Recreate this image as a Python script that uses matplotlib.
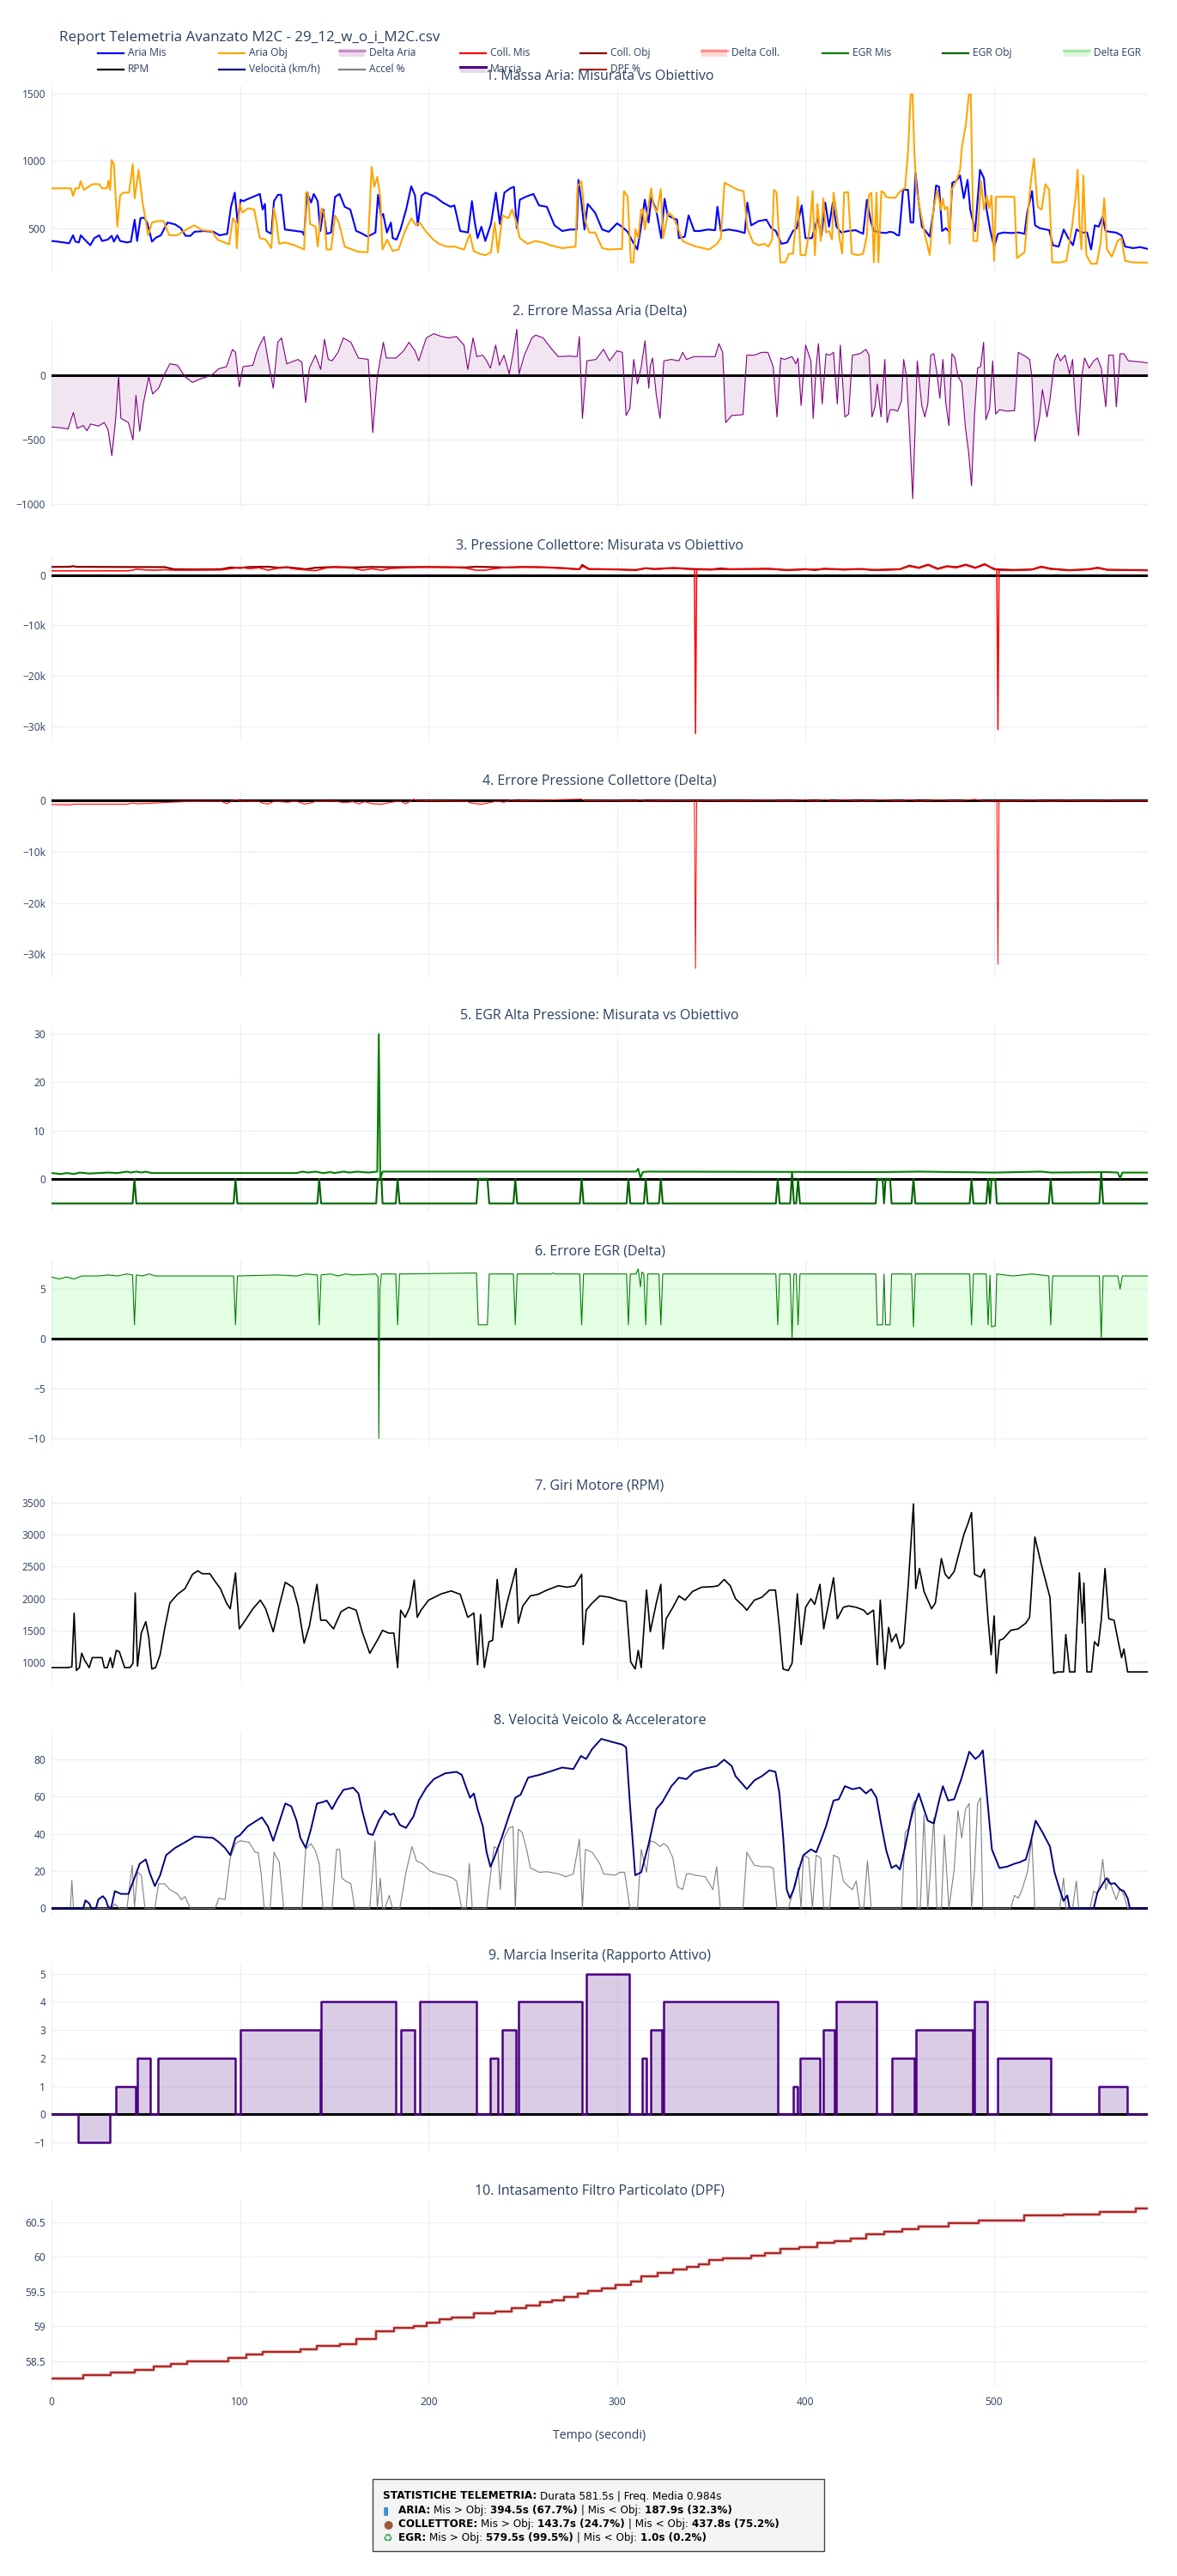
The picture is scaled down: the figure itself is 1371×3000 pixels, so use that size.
import matplotlib
matplotlib.use('Agg')
import matplotlib.pyplot as plt
from matplotlib.lines import Line2D
from matplotlib.patches import Rectangle
from matplotlib.ticker import FuncFormatter
import numpy as np

plt.rcParams['font.family'] = ['Open Sans', 'DejaVu Sans']

# ---- data: (time s, value) ----
aria_mis = [(0, 405), (3.3, 400), (6.3, 394), (9.4, 388), (11.4, 447), (12.7, 400), (14.5, 394), (15.5, 447),
            (17.6, 415), (20.6, 373), (22.7, 426), (25.3, 447), (26.8, 405), (29.8, 415), (31.9, 443), (33.1, 400),
            (34.9, 447), (36.4, 405), (40, 394), (42.1, 400), (44.1, 563), (45.4, 405), (47.2, 574), (49.2, 578),
            (50.7, 542), (53.3, 400), (55.4, 430), (58, 447), (61.5, 542), (65.6, 528), (68.6, 500), (71.1, 443),
            (73.7, 443), (75.8, 473), (80.9, 479), (86, 473), (89.1, 447), (93.2, 458), (95.2, 659), (97.2, 764),
            (98.7, 542), (100.3, 711), (101.7, 701), (104.4, 718), (110.5, 754), (112, 638), (113.2, 680), (114, 479),
            (116.6, 458), (118, 701), (120.1, 748), (121.8, 748), (123.8, 490), (129.9, 479), (133, 473), (134, 447),
            (135.6, 764), (137.7, 690), (139.1, 754), (141.2, 701), (142.6, 479), (144.2, 638), (145.9, 458),
            (148.3, 468), (150.4, 733), (152.8, 754), (155.5, 659), (158.5, 638), (161.6, 479), (163.6, 468),
            (167.7, 437), (171.8, 468), (173.2, 748), (174.9, 585), (175.9, 606), (177.9, 468), (180, 542),
            (181, 426), (183, 415), (185.1, 490), (188.1, 638), (190.8, 811), (192.8, 743), (194.3, 521),
            (196.3, 743), (198.4, 764), (203.5, 733), (207.6, 690), (211.7, 659), (213.7, 669), (216.8, 479),
            (220.9, 468), (223, 701), (224.4, 553), (226, 426), (228, 511), (230.1, 405), (233.1, 532), (235.7, 764),
            (237.8, 532), (240.2, 764), (243.3, 796), (245.3, 807), (246.8, 500), (248.4, 711), (251.5, 733),
            (255.6, 754), (258.6, 669), (262.7, 659), (266.8, 521), (270.9, 479), (275, 490), (278.6, 490),
            (279.5, 859), (281.1, 690), (282.7, 490), (284.4, 680), (288.3, 616), (292.1, 490), (295.6, 473),
            (300, 536), (302.6, 511), (305.6, 473), (307.7, 415), (310.7, 342), (312.7, 511), (314.7, 711),
            (316.7, 542), (318.1, 726), (320.7, 638), (323.4, 426), (325.2, 718), (326.8, 595), (329.8, 574),
            (331.8, 563), (332.8, 426), (335.9, 437), (337.9, 595), (340.9, 479), (343.9, 479), (348, 490),
            (352, 485), (353.2, 659), (355, 479), (359, 490), (364, 479), (367.7, 464), (369.1, 690), (371.1, 521),
            (375.1, 553), (379.2, 563), (381.8, 500), (384.2, 479), (387.2, 384), (390.2, 394), (393.3, 479),
            (395.3, 500), (397.9, 669), (399.9, 426), (403.3, 426), (406.3, 574), (408.4, 447), (410.4, 690),
            (412.4, 511), (414.4, 690), (416.4, 511), (418.8, 468), (422.5, 479), (426.5, 485), (430.5, 458),
            (432.5, 711), (434.5, 553), (436.2, 479), (439.6, 468), (442.6, 464), (444.6, 473), (446.6, 468),
            (448.7, 447), (449.6, 447), (451.7, 785), (453.1, 785), (454.3, 785), (455.7, 542), (457.1, 542),
            (458.3, 912), (459.7, 722), (461.7, 511), (463.7, 479), (465.8, 437), (467.8, 627), (469.2, 817),
            (470.8, 807), (472.4, 479), (474.4, 500), (476.4, 468), (477.8, 838), (479.9, 849), (481.9, 891),
            (483.9, 722), (485.9, 859), (487.3, 638), (489.9, 479), (492.5, 933), (494.6, 870), (496, 638),
            (498, 479), (500, 363), (502, 458), (505, 468), (509.1, 464), (513.1, 468), (516.1, 458), (517.5, 616),
            (520.1, 775), (521.7, 521), (524.2, 500), (529.2, 485), (531.2, 373), (534.2, 363), (536.9, 490),
            (539.3, 426), (541.8, 373), (543.7, 490), (546.3, 468), (549.3, 468), (551.4, 342), (553.4, 521),
            (555.4, 511), (557.5, 585), (559.1, 479), (561.5, 473), (564.5, 468), (567.5, 447), (569.5, 363),
            (573.6, 352), (577.5, 359), (581.5, 346)]

aria_obj = [(0, 796), (10.4, 796), (11.4, 739), (12.7, 796), (14.5, 796), (15.5, 849), (17.2, 785), (21.7, 827),
            (25.3, 827), (26.8, 796), (29.4, 796), (30.2, 853), (31.1, 785), (31.9, 1007), (33.1, 976), (34.9, 511),
            (36.4, 743), (38, 764), (41.1, 764), (43.1, 976), (44.1, 722), (46.2, 933), (48.2, 701), (51.3, 447),
            (53.3, 542), (56.4, 553), (59.4, 553), (62.5, 447), (66.6, 447), (72.7, 500), (75.8, 521), (79.9, 485),
            (85, 479), (88, 415), (94.2, 380), (96.2, 574), (97.7, 542), (98.3, 352), (99.7, 684), (101.3, 616),
            (104.4, 648), (107.5, 638), (110.5, 426), (113.6, 415), (116.6, 352), (118, 648), (119.3, 553),
            (120.7, 384), (123.8, 394), (128.9, 373), (134, 342), (135, 764), (136.1, 764), (137.1, 532),
            (140.1, 511), (141.2, 363), (143.2, 648), (144.6, 606), (145.9, 342), (148.3, 342), (150.4, 595),
            (152.4, 542), (155.5, 363), (162.7, 325), (167.7, 321), (169.8, 955), (171.2, 807), (172.8, 881),
            (174.5, 722), (175.5, 342), (178, 415), (181, 331), (184.1, 342), (187.2, 468), (190.8, 574),
            (193.3, 521), (195.3, 542), (198.4, 479), (202.5, 415), (205.5, 384), (209.6, 363), (213.7, 363),
            (218.8, 342), (221.9, 458), (223.9, 331), (227, 310), (230.1, 300), (233.1, 321), (235.1, 542),
            (236.8, 321), (239.2, 595), (242.3, 574), (244.3, 638), (246.4, 553), (248.4, 426), (252.5, 384),
            (256.6, 405), (260.6, 394), (264.7, 373), (270.9, 352), (278, 363), (279, 807), (281.1, 849),
            (283.1, 553), (285.2, 468), (288.3, 468), (292.1, 352), (295.6, 342), (302.6, 346), (303.6, 775),
            (305.6, 733), (307.3, 246), (308.7, 246), (309.7, 490), (311.3, 426), (312.7, 638), (313.7, 638),
            (314.7, 490), (318.1, 796), (319.1, 680), (321.1, 616), (323.2, 790), (324.4, 426), (327.1, 616),
            (329.1, 595), (331.8, 521), (334.8, 405), (337.9, 384), (341.9, 363), (348.9, 342), (353, 384),
            (355, 426), (357, 838), (361, 807), (364, 785), (367.1, 775), (369.1, 500), (372.1, 394), (375.1, 373),
            (378.1, 384), (380.2, 363), (382.2, 415), (383.2, 785), (384.6, 764), (386.6, 246), (389.2, 246),
            (391.2, 310), (393.3, 310), (395.3, 638), (395.9, 733), (397.3, 300), (399.9, 300), (402.3, 511),
            (403.7, 775), (404.9, 300), (406.3, 680), (408, 405), (409.4, 722), (410.8, 468), (412.4, 479),
            (414, 415), (414.8, 764), (416.4, 616), (418, 426), (419.4, 310), (420.4, 764), (422.5, 768),
            (424.5, 310), (427.5, 300), (430.5, 310), (432.5, 447), (433.5, 743), (434.9, 764), (436.2, 246),
            (437.6, 764), (438.6, 246), (440.2, 775), (441.6, 764), (442.6, 733), (444.6, 726), (447.6, 726),
            (449.6, 764), (451.1, 785), (452.7, 796), (454.3, 1060), (455.7, 1494), (456.7, 1494), (457.7, 1060),
            (458.7, 796), (460.7, 638), (463.7, 426), (465.8, 300), (467.8, 638), (469.8, 785), (471.8, 638),
            (472.8, 722), (473.8, 638), (475.2, 659), (476.4, 384), (477.4, 785), (479.9, 849), (481.9, 933),
            (482.9, 1103), (485, 1272), (486.6, 1494), (487.6, 1494), (489, 405), (491, 405), (493, 849),
            (494.6, 638), (496, 743), (497.4, 648), (498.6, 743), (500, 257), (501, 733), (505, 733), (510.7, 733),
            (512.1, 278), (514.1, 300), (516.1, 321), (518.1, 638), (519.5, 849), (521.1, 1018), (523.1, 659),
            (525.2, 638), (527.2, 827), (529.2, 785), (530.8, 246), (535.2, 246), (538.3, 257), (541.3, 511),
            (543.3, 743), (544.3, 933), (545.3, 511), (546.3, 342), (547.3, 891), (548.9, 300), (551.4, 236),
            (554.4, 236), (556.4, 384), (558.4, 722), (559.8, 342), (562.4, 289), (565.5, 405), (567.5, 426),
            (569.5, 257), (573.6, 246), (581.5, 244)]

delta_aria = [(0, -399), (4.8, -405), (8.8, -414), (11.6, -287), (13.6, -410), (16.8, -388), (18.8, -428),
              (20.8, -376), (24.8, -392), (28, -365), (30, -421), (32, -621), (34, -343), (35.6, -4), (36.8, -332),
              (40.8, -365), (43.2, -499), (44.8, -154), (46.8, -432), (48.8, -209), (51.6, -9), (53.6, -143),
              (56.8, -98), (60, 13), (62.8, 91), (66.8, 80), (70.8, -9), (74.8, -53), (78.8, -27), (84.8, 2),
              (88.8, 53), (92.8, 69), (96, 203), (97.6, 180), (99.6, -87), (101.6, 69), (106.8, 80), (108.8, 180),
              (110.8, 247), (112.8, 303), (114.8, 125), (117.6, -98), (120, 258), (122, 292), (124.8, 91),
              (130.8, 125), (132.8, 102), (134.8, -209), (136.8, 58), (140, 158), (142.8, 47), (144.8, 281),
              (146.8, 125), (148.8, 114), (152, 180), (154.8, 292), (158.8, 258), (162.8, 136), (168, 125),
              (170.4, -443), (172.8, -9), (176, 258), (177.6, 136), (182.8, 136), (186.8, 192), (189.6, 258),
              (192.8, 192), (194.8, 114), (198.8, 292), (202.8, 325), (206.8, 303), (210.8, 292), (214.8, 303),
              (218.8, 236), (220.8, 47), (223.6, 292), (225.6, 147), (228.8, 158), (230.8, 114), (232.8, 58),
              (235.6, 236), (237.6, 80), (240, 158), (242.8, 13), (244.8, 169), (246.8, 359), (248, 13),
              (250.8, 158), (254.8, 292), (256.8, 314), (260.8, 292), (264.8, 214), (268.8, 147), (274.8, 151),
              (278.8, 147), (280, 303), (281.6, -332), (284, 114), (288.8, 125), (292.8, 203), (296, 114),
              (300, 192), (302.8, 180), (304.8, -310), (306.8, -254), (308.8, 125), (310.8, -65), (312.8, 69),
              (314.8, 269), (316.8, -98), (317.6, 76), (318.8, 136), (320.8, -154), (322.8, -332), (324.8, 114),
              (328.8, 125), (332.8, 114), (334.8, 180), (336.8, 125), (340.8, 147), (346.8, 147), (352, 147),
              (354, 247), (356, 180), (357.6, -365), (360.8, -310), (366.8, -303), (368.8, 158), (372.8, 158),
              (376.8, 180), (380, 180), (382.8, 69), (384.8, -321), (386.8, 136), (388.8, 125), (392.8, 147),
              (394.8, 91), (396, 136), (397.6, -232), (400, 236), (402.8, 114), (404, -332), (405.6, 69),
              (406.8, 247), (408.8, -220), (410.8, 169), (412.8, 158), (414.8, 180), (416.8, -220), (418.4, 236),
              (420.8, -321), (422.8, -299), (424.8, 158), (428.8, 169), (432, 203), (433.6, 158), (435.2, -321),
              (436.8, -243), (438, -65), (440, -321), (442, 125), (443.2, -365), (444.8, -265), (446.8, -265),
              (448.8, -276), (450.8, -198), (452, 125), (453.6, -20), (455.2, -454), (456.8, -955), (458, -454),
              (459.2, 114), (461.6, -232), (463.2, -321), (464.8, -220), (466.4, 158), (468, 169), (469.6, 24),
              (471.2, -176), (472.8, 125), (474.4, -220), (476, -388), (477.6, 169), (479.2, 136), (480.8, -9),
              (482.8, -53), (484.8, -410), (486.4, -588), (488, -855), (489.6, -299), (491.2, 58), (492.8, 69),
              (494.4, 258), (495.6, -343), (497.6, -254), (499.2, 114), (500.8, -299), (502.8, -265), (506.8, -276),
              (510.8, -272), (512.8, 180), (516.8, 147), (518.8, 125), (520, -9), (521.6, -510), (524, -332),
              (525.6, -109), (528, -321), (529.6, -187), (532, 114), (533.6, 169), (535.2, 114), (537.6, 158),
              (540, 13), (541.6, 125), (543.2, -254), (544.8, -465), (546.4, -9), (548, 136), (550.4, 58),
              (552.8, 114), (554.8, 136), (556.8, 58), (559.2, -243), (560.8, 158), (563.2, 158), (564.8, -243),
              (566.8, 169), (568.8, 169), (571.2, 114), (576.8, 107), (581.5, 98)]

coll_obj = [(0, 1650), (10, 1700), (11.6, 1810), (13, 1680), (40, 1640), (60, 1620), (65, 1200), (75, 1150),
            (90, 1200), (95, 1550), (100, 1450), (105, 1650), (115, 1700), (120, 1500), (125, 1600), (135, 1200),
            (140, 1500), (150, 1650), (160, 1550), (170, 1650), (180, 1600), (200, 1650), (220, 1550), (225, 1700),
            (240, 1550), (250, 1650), (260, 1600), (270, 1450), (280, 1200), (281.5, 2050), (285, 1250),
            (300, 1150), (310, 1050), (315, 1400), (320, 1250), (330, 1450), (340, 1250), (350, 1150), (355, 1350),
            (360, 1200), (370, 1250), (380, 1300), (390, 1050), (400, 1200), (405, 1050), (410, 1300), (420, 1150),
            (430, 1250), (435, 1050), (450, 1200), (455, 1900), (460, 1500), (465, 2100), (470, 1300), (475, 1800),
            (480, 1600), (485, 2100), (490, 1500), (495, 2200), (500, 1200), (510, 1050), (520, 1150), (525, 1700),
            (530, 1300), (540, 1000), (550, 1200), (555, 1500), (560, 1100), (570, 1050), (581.5, 1000)]

coll_mis = [(0, 880), (40, 880), (43, 1000), (45, 1200), (50, 1050), (55, 1000), (60, 1100), (65, 1000),
            (90, 1050), (95, 1300), (100, 1600), (105, 1300), (110, 1500), (115, 1000), (120, 1400), (125, 1500),
            (130, 1200), (140, 900), (145, 1400), (150, 1600), (160, 1400), (165, 1000), (170, 1300), (175, 1000),
            (180, 1350), (195, 1600), (210, 1600), (220, 1400), (225, 1000), (230, 1000), (235, 1300), (240, 1500),
            (250, 1650), (260, 1600), (270, 1400), (280, 1150), (281.5, 1800), (285, 1200), (300, 1150),
            (310, 1000), (315, 1350), (320, 1200), (330, 1400), (341, 1150), (341.6, -31500), (342.2, 1100),
            (350, 1100), (360, 1200), (380, 1250), (390, 1000), (400, 1150), (410, 1250), (420, 1100), (430, 1200),
            (440, 1000), (450, 1150), (455, 1800), (460, 1400), (465, 2000), (470, 1200), (475, 1700), (480, 1500),
            (485, 2000), (490, 1400), (495, 2100), (501.4, 1150), (502, -30700), (502.6, 1000), (510, 950),
            (520, 1100), (525, 1600), (530, 1200), (540, 950), (550, 1150), (555, 1400), (560, 1050), (570, 1000),
            (581.5, 950)]

delta_coll = [(0, -760), (10, -820), (12, -700), (40, -700), (43, -450), (45, -600), (50, -550), (60, -350),
              (70, -200), (90, -120), (93, -600), (97, 200), (100, -50), (110, -150), (112, -500), (115, -650),
              (118, -100), (125, -300), (130, -100), (134, -650), (137, -500), (140, -150), (145, -100), (150, -50),
              (155, -400), (160, -200), (163, -650), (166, -200), (170, -600), (175, -700), (180, -300), (185, -100),
              (188, -600), (192, 300), (195, -100), (200, 0), (220, -100), (223, -500), (228, -700), (232, -400),
              (236, -100), (240, -300), (244, 200), (246, -100), (250, 0), (281, 300), (283, 0), (300, 50),
              (310, -100), (312, 200), (315, -100), (330, 50), (341, 0), (341.6, -32800), (342.2, 0), (350, 50),
              (360, -50), (380, 100), (390, -50), (400, 150), (405, -100), (410, 200), (415, -50), (420, 150),
              (430, -100), (440, 150), (450, -50), (455, 200), (460, -100), (470, 150), (480, -50), (490, 250),
              (495, -100), (501.4, 0), (502, -32000), (502.6, 0), (510, -50), (520, 100), (530, -100), (540, 50),
              (550, -80), (560, 60), (570, -50), (581.5, -30)]

egr_mis = [(0, 1.2), (5, 1.0), (8, 1.2), (12, 1.0), (15, 1.3), (20, 1.1), (25, 1.2), (30, 1.3), (35, 1.2),
           (40, 1.5), (42, 1.3), (45, 1.5), (48, 1.3), (50, 1.5), (53, 1.2), (130, 1.2), (133, 1.5), (136, 1.3),
           (140, 1.5), (144, 1.2), (148, 1.4), (150, 1.2), (155, 1.5), (158, 1.3), (162, 1.5), (168, 1.3),
           (172.8, 1.5), (173.6, 30), (174.4, 0.0), (175.6, 1.5), (310, 1.5), (311.2, 2.1), (312.4, 0.2),
           (313.6, 1.4), (316, 1.5), (440, 1.4), (460, 1.5), (480, 1.4), (500, 1.3), (525, 1.5), (530, 1.3),
           (560, 1.4), (565.6, 1.3), (566.8, 0.1), (568, 1.3), (581.5, 1.3)]

egr_obj = [(0, -5.1), (43, -5.1), (44, 0), (45, -5.1), (96.6, -5.1), (97.6, 0), (98.6, -5.1), (141, -5.1),
           (142, 0), (143, -5.1), (172.2, -5.1), (173, 0), (175, 0), (175.6, -5.1), (182.6, -5.1), (183.6, 0),
           (184.6, -5.1), (225.4, -5.1), (226.4, 0), (231.2, 0), (232.2, -5.1), (245, -5.1), (246, 0), (247, -5.1),
           (280.2, -5.1), (281.2, 0), (282.2, -5.1), (305, -5.1), (306, 0), (307, -5.1), (314.2, -5.1),
           (315.2, 0), (316.2, -5.1), (322.2, -5.1), (323.2, 0), (324.2, -5.1), (384.2, -5.1), (385.2, 0),
           (386.2, -5.1), (391.8, -5.1), (392.8, 1.3), (393.8, -5.1), (395, -5.1), (396, 0), (397, -5.1),
           (437.2, -5.1), (438, 0), (440.8, 0), (441.6, -5.1), (442.4, 0), (444.8, 0), (445.6, -5.1),
           (456.2, -5.1), (457.2, 0), (458.2, -5.1), (487, -5.1), (488, 0), (489, -5.1), (495.8, -5.1),
           (496.8, 0), (497.8, -5.1), (498.6, 0), (500.6, 0), (501.4, -5.1), (529, -5.1), (530, 0), (531, -5.1),
           (555.8, -5.1), (556.8, 1.3), (557.8, -5.1), (581.5, -5.1)]

delta_egr = [(0, 6.2), (4, 6.0), (8, 6.2), (12, 6.0), (16, 6.3), (25, 6.3), (30, 6.4), (35, 6.3), (40, 6.5),
             (43, 6.4), (44, 1.4), (45, 6.4), (48, 6.3), (52, 6.5), (55, 6.3), (96.6, 6.3), (97.6, 1.4),
             (98.6, 6.3), (120, 6.4), (130, 6.3), (135, 6.5), (141, 6.4), (142, 1.4), (143, 6.4), (148, 6.5),
             (152, 6.3), (156, 6.5), (160, 6.4), (172, 6.5), (173.2, 6.2), (173.6, -10), (174.2, 5), (175, 6.5),
             (182.6, 6.5), (183.6, 1.4), (184.6, 6.5), (225.4, 6.6), (226.4, 1.4), (231.2, 1.4), (232.2, 6.5),
             (245, 6.5), (246, 1.4), (247, 6.5), (265, 6.5), (266, 6.6), (267, 6.5), (280.2, 6.5), (281.2, 1.4),
             (282.2, 6.5), (305, 6.5), (306, 1.4), (307, 6.5), (310, 6.5), (311.2, 7.0), (312.4, 5.2), (313.2, 6.7),
             (314.2, 6.5), (315.2, 1.4), (316.2, 6.5), (322.2, 6.5), (323.2, 1.4), (324.2, 6.5), (384.2, 6.5),
             (385.2, 1.4), (386.2, 6.5), (391.8, 6.5), (392.8, 0.0), (393.8, 6.5), (395, 6.5), (396, 1.4),
             (397, 6.5), (437.2, 6.5), (438, 1.4), (440.8, 1.4), (441.6, 6.5), (442.4, 1.4), (444.8, 1.4),
             (445.6, 6.5), (456.2, 6.5), (457.2, 1.2), (458.2, 6.5), (487, 6.5), (488, 1.4), (489, 6.5),
             (495.8, 6.5), (496.8, 1.4), (497.8, 6.4), (498.6, 1.2), (500.6, 1.3), (501.4, 6.5), (510, 6.3),
             (520, 6.5), (529, 6.3), (530, 1.4), (531, 6.3), (555.8, 6.3), (556.8, 0.0), (557.8, 6.3),
             (565.6, 6.3), (566.8, 5.0), (568, 6.3), (581.5, 6.3)]

rpm = [(0, 919), (8.8, 919), (10.8, 933), (12, 1772), (13.2, 874), (14.8, 919), (16, 1144), (17.6, 1032),
       (20, 919), (21.6, 1076), (26.8, 1076), (28, 919), (29.6, 919), (31.2, 1076), (32.4, 919), (34.4, 1189),
       (36, 1166), (38.8, 919), (41.6, 919), (43.2, 987), (44.4, 2086), (45.6, 942), (47.6, 1458), (50, 1637),
       (51.6, 1391), (53.2, 897), (55.2, 919), (57.6, 1121), (60, 1525), (62.8, 1929), (66.8, 2064), (70.8, 2154),
       (74.8, 2378), (77.6, 2432), (80, 2387), (84, 2387), (86.8, 2266), (89.6, 2154), (92.8, 1929), (94.8, 1839),
       (97.6, 2400), (99.6, 1525), (102.8, 1660), (106.8, 1839), (110.8, 1974), (113.6, 1839), (117.6, 1480),
       (120.8, 1884), (124, 2252), (128, 2176), (130.8, 1884), (134, 1301), (136.8, 1570), (140.8, 2221),
       (142.8, 1660), (145.6, 1660), (149.6, 1525), (153.6, 1794), (157.6, 1862), (161.6, 1817), (164.8, 1480),
       (168.8, 1144), (172.8, 1346), (175.6, 1503), (178.8, 1458), (181.6, 1458), (183.6, 919), (185.2, 1817),
       (187.6, 1705), (190, 1862), (192.4, 2288), (194, 1705), (196, 1817), (200, 1974), (206.8, 2073),
       (212, 2118), (216.8, 2064), (218.8, 1884), (220.8, 1705), (224, 1772), (226, 964), (227.6, 1750),
       (229.6, 919), (232, 1323), (234, 1346), (236.4, 2297), (238.8, 1548), (241.6, 1929), (244, 2199),
       (246.4, 2468), (247.6, 1615), (250, 1884), (254, 2041), (258, 2064), (262.8, 2131), (268.8, 2199),
       (273.6, 2176), (277.6, 2199), (281.2, 2378), (282, 1278), (283.6, 1817), (286.8, 1929), (290.8, 2041),
       (296, 2019), (300.8, 1974), (304.8, 1951), (307.2, 1009), (309.6, 897), (311.2, 1189), (312.8, 919),
       (315.6, 2131), (317.6, 1480), (320.8, 1929), (323.2, 2221), (324.4, 1211), (326, 1682), (329.6, 1862),
       (332.8, 2041), (336, 1974), (340, 2109), (344.8, 2176), (350.8, 2185), (353.6, 2199), (356.8, 2297),
       (360, 2199), (362.8, 1996), (366.8, 1884), (368.8, 1817), (372.8, 1974), (376.8, 2019), (380.8, 2131),
       (384, 2131), (386, 1570), (388, 897), (390.8, 874), (392.8, 987), (395.6, 2073), (397.6, 1278),
       (400, 1862), (402.8, 1996), (404.8, 1907), (407.6, 2221), (409.6, 1525), (412.8, 2019), (414.8, 2324),
       (416.8, 1682), (420, 1862), (422.8, 1884), (426.8, 1862), (430.8, 1817), (432.8, 1750), (436, 1817),
       (438, 964), (439.6, 1974), (442, 897), (444, 1548), (445.6, 1323), (448, 1444), (450, 1220), (452, 1301),
       (454.4, 2199), (457.2, 3478), (458.4, 2154), (460.4, 2468), (462.8, 2109), (466.8, 1839), (468.8, 1929),
       (472, 2625), (474, 2378), (476, 2311), (478.8, 2423), (481.6, 2737), (484, 3006), (486, 3163),
       (488, 3343), (489.6, 2378), (492.8, 2333), (494.8, 2459), (496.8, 1660), (498.4, 1121), (500, 1727),
       (501.2, 830), (502.8, 1346), (504.8, 1368), (508.8, 1503), (512.8, 1525), (516.8, 1615), (518.8, 1705),
       (521.6, 2961), (524.8, 2557), (529.6, 2019), (531.6, 830), (533.6, 852), (536.8, 852), (538, 1436),
       (540, 852), (542.8, 852), (545.2, 2400), (546.8, 1615), (547.6, 2243), (549.2, 852), (551.6, 852),
       (553.2, 1323), (555.2, 1256), (556.8, 1660), (558.8, 2468), (560.8, 1682), (563.6, 1660), (566, 1301),
       (567.6, 1076), (568.8, 1211), (570.8, 852), (574.8, 852), (581.5, 852)]

velocita = [(0, 0), (16.8, 0), (18, 4.2), (20, 2.6), (21.2, 0), (23.6, 0), (24.8, 4.6), (27.2, 6.5), (28.8, 4.6),
            (30, 0.8), (31.6, 0), (33.6, 9.2), (36.8, 7.7), (40.8, 7.7), (44, 16.2), (46.8, 23.9), (50, 26.2),
            (52, 19.3), (54.8, 11.9), (57.6, 17.7), (60.8, 28.5), (65.6, 32.4), (70.8, 35.4), (76, 38.5),
            (80.8, 38.1), (85.6, 37.8), (88.8, 35.4), (92, 32.4), (94.8, 28.5), (97.6, 37.8), (100, 39.3),
            (104, 43.9), (108.8, 47), (111.6, 48.8), (114.8, 43.9), (117.6, 36.2), (120.8, 46.2), (124, 56.2),
            (127.2, 54.7), (130, 47), (132, 37.8), (134.8, 32.4), (137.6, 42.4), (140.8, 56.2), (144, 57),
            (146, 57.8), (148.8, 53.2), (151.6, 58.5), (154.8, 63.5), (160, 64.7), (162.8, 61.6), (164.8, 52.4),
            (168, 40.1), (170.4, 39.3), (173.6, 47), (176.8, 52.4), (179.6, 50.1), (181.6, 50.8), (184.8, 44.7),
            (188, 43.1), (192, 49.3), (194.8, 57.8), (198.8, 64.7), (202.8, 69.3), (208.8, 72.4), (214.8, 73.2),
            (217.6, 71.6), (220, 64.7), (222, 59.3), (224, 61.6), (226, 53.2), (228.8, 43.9), (230.8, 30),
            (232.8, 22.3), (234.8, 27), (238.8, 37.8), (242.8, 50.1), (246, 59.3), (248.8, 60.9), (252.8, 70.1),
            (258.8, 71.6), (264.8, 73.5), (270.8, 75.5), (276.8, 74.7), (280.8, 81.7), (283.6, 80.1),
            (286.8, 85.5), (291.6, 90.9), (296.8, 89.4), (302.8, 87.8), (304.8, 86.3), (306.8, 56.2),
            (309.6, 17.7), (312.8, 19.3), (316.8, 34.7), (320.8, 53.2), (324, 57), (328.8, 65.5), (332.8, 70.1),
            (336.8, 69.3), (340.8, 73.2), (346.8, 75), (352.8, 76.3), (356.8, 79.7), (360.8, 76.3), (362.8, 70.9),
            (366.8, 66.3), (368.8, 63.9), (372.8, 68.6), (376.8, 70.9), (380.8, 74), (384, 73.2), (386, 62.4),
            (388, 39.3), (390, 10), (391.6, 5.4), (393.6, 10), (396, 19.3), (398.8, 28.5), (402.8, 31.6),
            (405.6, 30), (408, 36.2), (410.8, 43.9), (414.8, 57.8), (417.6, 58.5), (420.8, 65.5), (424.8, 63.9),
            (428.8, 64.7), (432, 61.6), (434.8, 63.9), (437.6, 59.3), (440, 45.5), (442.8, 30.8), (445.6, 21.6),
            (448, 23.1), (450, 20.8), (452.8, 33.1), (455.6, 47), (457.6, 54.7), (460, 61.6), (462, 55.5),
            (464.8, 47), (468, 45.5), (470.8, 57.8), (472.8, 65.5), (475.6, 57.8), (478.8, 58.5), (482.8, 70.1),
            (486.8, 84), (490, 80.1), (492, 81.7), (494, 84.7), (496, 62.4), (498.8, 31.6), (502.8, 21.6),
            (506.8, 22.3), (510.8, 23.9), (513.6, 24.7), (516.8, 26.2), (519.2, 34.7), (522, 47), (525.6, 40.8),
            (529.6, 33.1), (532, 19.3), (534.8, 10), (536.8, 3.9), (538.8, 6.9), (540, 0), (552.8, 0),
            (554.8, 8.5), (557.6, 13.1), (559.6, 16.2), (561.6, 13.1), (564, 13.4), (566.8, 10), (568.8, 9.2),
            (570.8, 5.4), (572, 0), (581.5, 0)]

accel = [(0, 0), (10, 0), (10.8, 15), (11.6, 0), (32, 0), (33.6, 2.3), (36, 0), (40, 0), (42.8, 23.1), (44, 0.8),
         (45.6, 19.3), (47.6, 17.7), (49.6, 0), (54.8, 0), (56.8, 13.1), (60, 13.1), (62.8, 10), (66.8, 7.7),
         (68.8, 4.6), (70.8, 6.2), (73.6, 0), (86.8, 0), (88.8, 5.4), (92, 4.6), (94.8, 27), (97.6, 34.7),
         (100, 36.2), (104.8, 35.4), (108, 30), (109.6, 30), (111.2, 18.5), (112.8, 0), (116, 0), (118, 30),
         (120.8, 24.7), (123.2, 0), (132.8, 0), (134.8, 31.6), (137.6, 34.7), (140, 30.8), (142, 23.9), (144, 0),
         (148.8, 0), (151.2, 31.6), (152.8, 31.6), (154, 16.2), (156, 14.6), (158.8, 13.1), (160.8, 0),
         (168.8, 0), (171.6, 36.2), (172.8, 0), (174.4, 16.2), (175.6, 0), (176.8, 0), (179.2, 6.9), (180.8, 0),
         (184.8, 0), (188, 19.3), (191.2, 33.1), (193.6, 25.4), (196.8, 23.9), (200.8, 20), (204.8, 18.5),
         (208.8, 17.7), (212.8, 16.2), (214.8, 14.6), (217.6, 0), (220, 0), (221.6, 23.9), (223.2, 0), (230.8, 0),
         (232.8, 17.7), (234.8, 33.1), (236.8, 31.6), (238, 10), (240, 37.8), (242.8, 43.1), (244.8, 43.9),
         (246, 0), (247.6, 42.4), (249.6, 40.8), (252, 31.6), (254, 21.6), (258.8, 19.3), (262.8, 19.6),
         (268.8, 18.5), (272.8, 16.9), (276.8, 18.5), (280, 37), (281.6, 0), (283.2, 31.6), (286.8, 30),
         (290.8, 23.9), (292.8, 18.5), (298.8, 17.7), (301.6, 19.3), (304, 19.3), (306.8, 0), (310.8, 0),
         (312.8, 31.6), (315.6, 19.3), (317.6, 36.2), (320, 35.4), (322.8, 33.1), (324.8, 34.7), (326.8, 33.1),
         (329.6, 27), (332, 11.6), (334.8, 10), (336.8, 18.5), (338.8, 18.5), (341.6, 17.7), (346.8, 16.9),
         (350.8, 10), (352.8, 22.3), (354.8, 0), (366.8, 0), (368.8, 30), (372.8, 23.1), (376.8, 22.3),
         (380.8, 22.3), (382.8, 21.6), (384.8, 0), (390.8, 0), (392.8, 6.9), (394.8, 13.1), (396, 21.6),
         (397.6, 0), (398.8, 28.5), (401.6, 27), (403.6, 0), (405.6, 28.5), (408, 27), (409.6, 0), (412.8, 0),
         (414.8, 28.5), (417.6, 27), (420, 14.6), (422.8, 11.6), (424.8, 10), (426.8, 14.6), (428.8, 0),
         (430.8, 0), (432.8, 25.4), (434.8, 0), (450.8, 0), (452.8, 40.8), (454.8, 43.1), (456.8, 55.5),
         (458, 57.8), (459.2, 0), (460.8, 0), (462.8, 50.1), (464.8, 0), (468, 48.5), (469.6, 0), (472, 0),
         (473.6, 39.3), (476, 0), (478.8, 20.8), (480.8, 52.4), (482.8, 37.8), (484.8, 53.2), (486.8, 56.2),
         (488, 0), (489.6, 20.8), (491.2, 56.2), (492.8, 59.3), (494, 0), (508.8, 0), (510.8, 6.9), (512.8, 5.4),
         (514.8, 10), (517.6, 19.3), (520, 37), (521.6, 0), (534.8, 0), (536.8, 16.2), (538, 0), (541.6, 0),
         (543.6, 14.6), (544.8, 0), (550.8, 0), (552.8, 9.2), (554.8, 7.7), (556, 13.1), (557.6, 26.2),
         (559.2, 10), (560.8, 16.2), (562.8, 10), (564.8, 4.6), (566.8, 10.8), (568.8, 6.9), (570.8, 0),
         (581.5, 0)]

# gear: (start time, gear held until next change)
marcia = [(0, 0), (14, -1), (30.8, 0), (34, 1), (44.4, 0), (45.6, 2), (52.4, 0), (56.4, 2), (97.6, 0), (100, 3),
          (142.4, 0), (143.2, 4), (182.8, 0), (185.2, 3), (192.8, 0), (195.2, 4), (225.2, 0), (232.8, 2),
          (236.8, 0), (239.2, 3), (246.4, 0), (247.6, 4), (281.6, 0), (283.6, 5), (306.4, 0), (313.2, 2),
          (315.6, 0), (318, 3), (323.6, 0), (324.8, 4), (385.2, 0), (393.6, 1), (395.6, 0), (397.2, 2),
          (407.6, 0), (409.6, 3), (415.2, 0), (416.4, 4), (437.6, 0), (445.6, 2), (457.6, 0), (458.4, 3),
          (488.8, 0), (489.4, 4), (496.4, 0), (502, 2), (530, 0), (555.6, 1), (570.4, 0), (581.5, 0)]

dpf = [(0, 58.26), (16.8, 58.30), (31.2, 58.34), (44, 58.38), (54, 58.43), (63.2, 58.46), (72, 58.50),
       (93.6, 58.55), (103.2, 58.60), (112, 58.63), (132, 58.67), (140.8, 58.72), (153.2, 58.75), (161.6, 58.82),
       (172, 58.93), (181.6, 58.98), (192, 59.01), (199.2, 59.05), (205.6, 59.10), (212, 59.13), (224, 59.19),
       (235.2, 59.21), (244, 59.26), (252, 59.30), (259.2, 59.35), (265.6, 59.38), (272, 59.43), (279.2, 59.47),
       (284.8, 59.51), (292, 59.55), (299.2, 59.60), (307.2, 59.65), (312.8, 59.72), (321.6, 59.77),
       (329.6, 59.82), (336.8, 59.85), (343.2, 59.89), (348.8, 59.95), (356, 59.98), (371.2, 60.02),
       (378.4, 60.05), (386.4, 60.11), (396.8, 60.14), (406.4, 60.20), (415.2, 60.23), (424, 60.26),
       (432, 60.32), (441.6, 60.36), (451.2, 60.40), (460, 60.44), (476, 60.49), (492, 60.52), (516, 60.59),
       (536.8, 60.61), (556, 60.65), (575.2, 60.69), (581.5, 60.69)]

panel_titles = ["1. Massa Aria: Misurata vs Obiettivo", "2. Errore Massa Aria (Delta)",
                "3. Pressione Collettore: Misurata vs Obiettivo", "4. Errore Pressione Collettore (Delta)",
                "5. EGR Alta Pressione: Misurata vs Obiettivo", "6. Errore EGR (Delta)", "7. Giri Motore (RPM)",
                "8. Velocità Veicolo & Acceleratore", "9. Marcia Inserita (Rapporto Attivo)",
                "10. Intasamento Filtro Particolato (DPF)"]

legend_items = [("Aria Mis", "line", "blue"), ("Aria Obj", "line", "orange"), ("Delta Aria", "fill", "purple"),
                ("Coll. Mis", "line", "red"), ("Coll. Obj", "line", "darkred"), ("Delta Coll.", "fill", "red"),
                ("EGR Mis", "line", "green"), ("EGR Obj", "line", "darkgreen"), ("Delta EGR", "fill", "limegreen"),
                ("RPM", "line", "black"), ("Velocità (km/h)", "line", "navy"), ("Accel %", "line", "gray"),
                ("Marcia", "fill", "indigo"), ("DPF %", "line", "#b22222")]

stats_lines = [
    [("STATISTICHE TELEMETRIA: ", True), ("Durata 581.5s | Freq. Media 0.984s", False)],
    [("ARIA: ", True), ("Mis > Obj: ", False), ("394.5s (67.7%)", True), (" | Mis < Obj: ", False),
     ("187.9s (32.3%)", True)],
    [("COLLETTORE: ", True), ("Mis > Obj: ", False), ("143.7s (24.7%)", True), (" | Mis < Obj: ", False),
     ("437.8s (75.2%)", True)],
    [("EGR: ", True), ("Mis > Obj: ", False), ("579.5s (99.5%)", True), (" | Mis < Obj: ", False),
     ("1.0s (0.2%)", True)],
]
stats_icons = [None, ("\u25AE", "#3b8fd6"), ("\u25CF", "#9a5a3c"), ("\u267B", "#3aa860")]

# ---- layout ----
W, H = 1371, 3000
FONT_C = '#2a3f5f'
GRID_C = '#ebf0f8'
X0, X1 = 60, 1337
TOP0, STEP, PH = 100, 273.6, 217
T_END = 581.5


def pt(px):
    return px * 0.72


def tv(series):
    a = np.array(series, dtype=float)
    return a[:, 0], a[:, 1]


def fmt_num(v, pos):
    s = f'{v:g}'
    return s.replace('-', '\u2212')


def fmt_k(v, pos):
    if v == 0:
        return '0'
    return f'{v / 1000:g}k'.replace('-', '\u2212')


fig = plt.figure(figsize=(W / 100, H / 100), dpi=100)
fig.patch.set_facecolor('white')


def make_ax(k, yticks, fmt=fmt_num, zero=True):
    top = TOP0 + k * STEP
    ax = fig.add_axes([X0 / W, 1 - (top + PH) / H, (X1 - X0) / W, PH / H])
    ax.set_xlim(0, T_END)
    for s in ax.spines.values():
        s.set_visible(False)
    ax.set_xticks(range(0, 600, 100))
    ax.set_yticks(yticks)
    ax.yaxis.set_major_formatter(FuncFormatter(fmt))
    ax.tick_params(length=0, labelsize=pt(12), labelcolor=FONT_C, pad=5)
    ax.grid(True, color=GRID_C, lw=1)
    ax.set_axisbelow(True)
    if k < 9:
        ax.tick_params(labelbottom=False)
    if zero:
        ax.axhline(0, color='black', lw=2.2, zorder=1.5)
    fig.text((X0 + X1) / 2 / W, 1 - (top - 11) / H, panel_titles[k], ha='center', va='center',
             fontsize=pt(16), color=FONT_C)
    return ax


# 1
ax = make_ax(0, [500, 1000, 1500], zero=False)
ax.plot(*tv(aria_mis), color='blue', lw=1.5)
ax.plot(*tv(aria_obj), color='orange', lw=1.5)
ax.margins(y=0.05)

# 2
ax = make_ax(1, [-1000, -500, 0])
t, v = tv(delta_aria)
ax.fill_between(t, v, 0, color=(0.5, 0, 0.5, 0.1), lw=0)
ax.plot(t, v, color='purple', lw=0.8)

# 3
ax = make_ax(2, [-30000, -20000, -10000, 0], fmt=fmt_k)
ax.plot(*tv(coll_obj), color='darkred', lw=1.6)
ax.plot(*tv(coll_mis), color='red', lw=1.1)

# 4
ax = make_ax(3, [-30000, -20000, -10000, 0], fmt=fmt_k)
t, v = tv(delta_coll)
ax.fill_between(t, v, 0, color=(1, 0, 0, 0.1), lw=0)
ax.plot(t, v, color='red', lw=0.7)

# 5
ax = make_ax(4, [0, 10, 20, 30])
ax.plot(*tv(egr_mis), color='green', lw=1.5)
ax.plot(*tv(egr_obj), color='darkgreen', lw=1.5)

# 6
ax = make_ax(5, [-10, -5, 0, 5])
t, v = tv(delta_egr)
ax.fill_between(t, v, 0, color=(0, 1, 0, 0.1), lw=0)
ax.plot(t, v, color='green', lw=0.8)

# 7
ax = make_ax(6, [1000, 1500, 2000, 2500, 3000, 3500], zero=False)
ax.plot(*tv(rpm), color='black', lw=1.2)

# 8
ax = make_ax(7, [0, 20, 40, 60, 80])
ax.plot(*tv(accel), color='gray', lw=0.8)
ax.plot(*tv(velocita), color='navy', lw=1.4)

# 9
ax = make_ax(8, [-1, 0, 1, 2, 3, 4, 5])
t, v = tv(marcia)
ax.fill_between(t, v, 0, step='post', color=(0.294, 0, 0.51, 0.2), lw=0)
ax.step(t, v, where='post', color='indigo', lw=1.8)
ax.set_ylim(-1.33, 5.3)

# 10
ax = make_ax(9, [58.5, 59, 59.5, 60, 60.5], zero=False)
t, v = tv(dpf)
ax.step(t, v, where='post', color='#f7b9b9', lw=3.0)
ax.step(t, v, where='post', color='#a52a2a', lw=1.5)
ax.tick_params(axis='x', pad=8)
fig.text((X0 + X1) / 2 / W, 1 - 2836 / H, 'Tempo (secondi)', ha='center', va='center',
         fontsize=pt(14), color=FONT_C)

# main title
fig.text(69 / W, 1 - 44 / H, 'Report Telemetria Avanzato M2C - 29_12_w_o_i_M2C.csv', ha='left', va='center',
         fontsize=pt(17), color=FONT_C)

# legend (two rows, fixed columns)
for i, (lab, kind, col) in enumerate(legend_items):
    r, c = divmod(i, 9)
    x = 114 + 140.6 * c
    y = 61.5 + 19.5 * r
    if kind == 'fill':
        fig.add_artist(Rectangle((x / W, 1 - (y + 4) / H), 30 / W, 8 / H, transform=fig.transFigure,
                                 facecolor=matplotlib.colors.to_rgba(col, 0.15), edgecolor='none'))
        a = 1.0 if lab == 'Marcia' else 0.35
        fig.add_artist(Line2D([x / W, (x + 30) / W], [1 - (y - 3) / H] * 2, transform=fig.transFigure,
                              color=col, alpha=a, lw=2.2))
    else:
        fig.add_artist(Line2D([x / W, (x + 30) / W], [1 - y / H] * 2, transform=fig.transFigure,
                              color=col, lw=1.6))
    fig.text((x + 35) / W, 1 - y / H, lab, ha='left', va='center', fontsize=pt(12), color=FONT_C)

# stats box
BX0, BX1, BY0, BY1 = 434, 960, 2887, 2971
fig.add_artist(Rectangle((BX0 / W, 1 - BY1 / H), (BX1 - BX0) / W, (BY1 - BY0) / H, transform=fig.transFigure,
                         facecolor='#f4f4f4', edgecolor='#444444', lw=1))
fig.canvas.draw()
renderer = fig.canvas.get_renderer()


def seg_width(txt, bold):
    a = fig.text(0, 0, txt + '|', fontsize=pt(12), fontweight='bold' if bold else 'normal',
                 family='DejaVu Sans')
    b = fig.text(0, 0, '|', fontsize=pt(12), fontweight='bold' if bold else 'normal', family='DejaVu Sans')
    w = a.get_window_extent(renderer).width - b.get_window_extent(renderer).width
    a.remove()
    b.remove()
    return w


for j, parts in enumerate(stats_lines):
    y = 2907 + 16.3 * j
    x = 446
    icon = stats_icons[j]
    if icon:
        fig.text(x / W, 1 - y / H, icon[0], ha='left', va='center', fontsize=pt(13), color=icon[1],
                 family='DejaVu Sans')
        x += 18
    for txt, bold in parts:
        fig.text(x / W, 1 - y / H, txt, ha='left', va='center', fontsize=pt(12),
                 fontweight='bold' if bold else 'normal', color='black', family='DejaVu Sans')
        x += seg_width(txt, bold)

fig.savefig('out.png', dpi=100, facecolor='white')
